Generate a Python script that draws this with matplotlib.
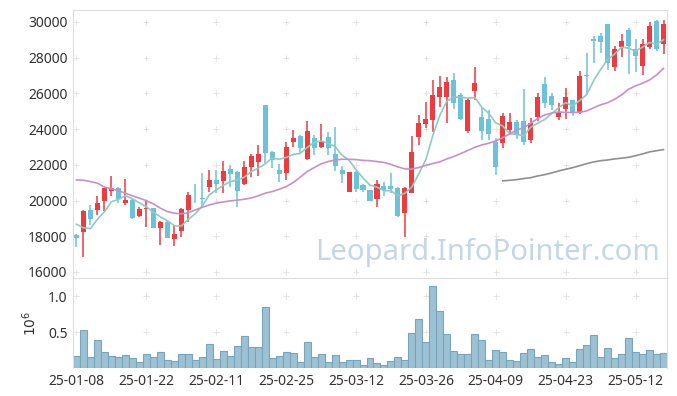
import numpy as np
import matplotlib
matplotlib.use('Agg')
import matplotlib.pyplot as plt

plt.rcParams['font.family'] = ['Noto Sans', 'DejaVu Sans']

# daily OHLC, Jan 8 - May 16 2025 (trading days)
opens = [18070, 18260, 19470, 19470, 19960, 20540, 20700, 19880, 20030, 19150,
         19510, 19580, 18480, 18820, 17850, 18310, 19470, 20500, 20150, 20780,
         21150, 21100, 21770, 21600, 20950, 21900, 22160, 25350, 22700, 21710,
         21560, 23300, 23620, 22350, 23500, 23020, 23560, 22610, 21710, 20500,
         21620, 20870, 20590, 20100, 20820, 20820, 20720, 19320, 20410, 23580,
         24290, 24510, 25820, 25820, 26750, 25910, 23910, 26150, 24660, 24570,
         23300, 23210, 23950, 24420, 24460, 23390, 24660, 26530, 25860, 24660,
         25110, 25630, 24890, 27030, 29030, 29220, 29890, 27460, 28620, 29550,
         28470, 27540, 28620, 30070, 28770]
highs = [18100, 19450, 19730, 20270, 20720, 21380, 20750, 21190, 20060, 19660,
         19990, 19600, 18870, 18840, 18610, 19600, 20500, 20950, 21530, 21710,
         21710, 22200, 21990, 21650, 22200, 22610, 23100, 25360, 22750, 22030,
         23300, 23950, 23650, 24460, 23670, 24290, 23860, 24100, 21940, 21620,
         21640, 20900, 20610, 21150, 21060, 21530, 20750, 20780, 23620, 24790,
         25540, 26750, 26980, 26940, 27130, 26000, 25730, 27500, 25260, 25070,
         23490, 24890, 24890, 24510, 26230, 24610, 26040, 26940, 26040, 25450,
         26290, 25650, 27270, 28280, 29220, 29370, 29900, 28660, 29330, 29650,
         29030, 29030, 30020, 30100, 30110]
lows = [17420, 16820, 18630, 19180, 19400, 20260, 19850, 19750, 18980, 19100,
        18540, 18450, 17510, 17880, 17480, 17960, 18820, 19850, 19700, 20500,
        20410, 20440, 20780, 19660, 20870, 21340, 21390, 22090, 21810, 21060,
        21150, 23020, 22680, 22270, 22550, 22930, 22550, 21670, 20970, 20470,
        20500, 20500, 19950, 19660, 20260, 20410, 19100, 17980, 20400, 23110,
        24050, 23860, 25260, 24330, 25110, 24500, 23770, 25630, 23390, 23390,
        21430, 22930, 23770, 23430, 23110, 23210, 24470, 25170, 25070, 24510,
        24550, 24740, 24850, 25910, 27720, 28250, 27310, 27270, 28060, 27090,
        27220, 27030, 28470, 28350, 28210]
closes = [17920, 19420, 18970, 19860, 20680, 20700, 20090, 20030, 19020, 19530,
          19600, 18480, 18820, 17920, 18110, 19530, 20310, 20450, 20100, 21150,
          20930, 21640, 21500, 20550, 21880, 22510, 22610, 22680, 22270, 21490,
          22980, 23490, 22960, 23900, 22960, 23320, 22960, 21950, 21490, 21600,
          20650, 20590, 19990, 20930, 20590, 20650, 19140, 20720, 22720, 24330,
          24570, 25910, 26380, 26640, 25450, 24550, 25630, 26600, 23910, 23710,
          21900, 24740, 24420, 23730, 23300, 24360, 25820, 25480, 25350, 24980,
          25780, 24890, 26980, 26980, 28940, 28900, 27690, 28470, 28940, 28660,
          28100, 28770, 29780, 28470, 29890]
# volume in millions of shares
volume = [0.171, 0.528, 0.153, 0.389, 0.222, 0.171, 0.153, 0.180, 0.139, 0.083,
          0.194, 0.153, 0.222, 0.111, 0.097, 0.194, 0.194, 0.111, 0.153, 0.333,
          0.125, 0.236, 0.167, 0.306, 0.444, 0.292, 0.292, 0.847, 0.139, 0.167,
          0.222, 0.208, 0.083, 0.361, 0.153, 0.194, 0.083, 0.180, 0.083, 0.106,
          0.115, 0.042, 0.139, 0.069, 0.042, 0.097, 0.153, 0.115, 0.486, 0.680,
          0.361, 1.139, 0.792, 0.472, 0.236, 0.194, 0.194, 0.472, 0.389, 0.115,
          0.250, 0.222, 0.115, 0.097, 0.208, 0.264, 0.153, 0.180, 0.083, 0.056,
          0.139, 0.083, 0.264, 0.319, 0.458, 0.153, 0.278, 0.139, 0.194, 0.417,
          0.222, 0.194, 0.250, 0.194, 0.208]
# moving averages as shown on the chart
ma5 = [18670, 18470, 18430, 18950, 19370, 19930, 20060, 20270, 20100, 19870,
       19650, 19330, 19090, 18870, 18590, 18570, 18940, 19260, 19700, 20310,
       20590, 20850, 21060, 21150, 21300, 21620, 21810, 22050, 22390, 22310,
       22410, 22580, 22640, 22960, 23260, 23330, 23220, 23020, 22540, 22260,
       21730, 21260, 20860, 20750, 20550, 20550, 20260, 20410, 20760, 21510,
       22300, 23650, 24780, 25570, 25790, 25790, 25730, 25770, 25230, 24880,
       24350, 24170, 23740, 23700, 23620, 24110, 24330, 24540, 24860, 25200,
       25480, 25300, 25600, 25920, 26710, 27340, 27900, 28200, 28590, 28530,
       28370, 28590, 28850, 28760, 29000]
ma20 = [21150, 21135, 21060, 20970, 20750, 20660, 20550, 20410, 20260, 20130,
        19990, 19810, 19570, 19380, 19290, 19250, 19320, 19470, 19620, 19750,
        19850, 19920, 19980, 20020, 20070, 20140, 20260, 20410, 20500, 20630,
        20780, 21000, 21300, 21620, 21840, 22050, 22180, 22270, 22310, 22310,
        22290, 22250, 22230, 22180, 22130, 22020, 21880, 21770, 21760, 21850,
        21970, 22070, 22170, 22330, 22470, 22630, 22800, 22980, 23110, 23210,
        23340, 23520, 23730, 23950, 24080, 24330, 24590, 24790, 24900, 24960,
        24930, 24930, 24940, 25020, 25190, 25360, 25480, 25670, 25910, 26230,
        26420, 26570, 26750, 27030, 27400]
ma_long = [np.nan] * 61 + [21100, 21135, 21170, 21230, 21280, 21375, 21450, 21545,
                           21655, 21750, 21840, 21950, 22065, 22160, 22230, 22270,
                           22330, 22370, 22420, 22510, 22610, 22720, 22790, 22850]
tick_labels = ['25-01-08', '25-01-22', '25-02-11', '25-02-25', '25-03-12',
               '25-03-26', '25-04-09', '25-04-23', '25-05-12']

UP = '#ee3b40'
DOWN = '#6cc2d8'
GRID = '#dddddd'

o = np.array(opens)
c = np.array(closes)
x = np.arange(len(o))
colors = np.where(c >= o, UP, DOWN)

fig = plt.figure(figsize=(6.77, 3.96), dpi=100)
ax = fig.add_axes([73 / 677, 1 - 278 / 396, 594 / 677, 268 / 396])
axv = fig.add_axes([73 / 677, 1 - 368 / 396, 594 / 677, 90 / 396], sharex=ax)

# candles
ax.vlines(x, lows, highs, colors=colors, linewidth=1.1, zorder=2)
body = np.maximum(np.abs(c - o), 40)
ax.bar(x, body, bottom=np.minimum(o, c), width=0.72, color=colors, zorder=3)

ax.plot(x, ma5, color='#8ecbc2', lw=1.2, zorder=4)
ax.plot(x, ma20, color='#c98fc8', lw=1.2, zorder=4)
ax.plot(x, ma_long, color='#8f8f8f', lw=1.2, zorder=4)

ax.text(0.697, 0.095, 'Leopard.InfoPointer.com', transform=ax.transAxes,
        ha='center', va='center', fontsize=21, color='#c3d8e5', zorder=1)

# volume
axv.bar(x, volume, width=1.0, color='#9bc1d2', edgecolor='#77a5bb', linewidth=0.8, zorder=2)

tick_pos = np.arange(0, len(x), 10)
yt = np.arange(16000, 30001, 2000)
ax.set_xlim(-0.5, len(x) - 0.5)
ax.set_ylim(15660, 30670)
ax.set_yticks(yt)
ax.set_yticklabels([str(v) for v in yt])
axv.set_ylim(0, 1.25)
axv.set_yticks([0.5, 1.0])
axv.set_yticklabels(['0.5', '1.0'])
axv.set_xticks(tick_pos)
axv.set_xticklabels(tick_labels)
axv.set_ylabel('$10^6$', fontsize=10, color='#333333', labelpad=6)
plt.setp(ax.get_xticklabels(), visible=False)

# plus-shaped grid marks at tick crossings
for a, ys in ((ax, yt), (axv, [0.5, 1.0])):
    gx, gy = np.meshgrid(tick_pos, ys)
    a.scatter(gx.ravel(), gy.ravel(), marker='+', s=14, color='#e4e4e4', linewidths=0.7, zorder=0)
    a.tick_params(length=0, labelsize=10, labelcolor='#333333', pad=4)
    for s in a.spines.values():
        s.set_color(GRID)
axv.spines['bottom'].set_visible(False)
ax.spines['bottom'].set_visible(False)

fig.savefig('out.png', dpi=100)
